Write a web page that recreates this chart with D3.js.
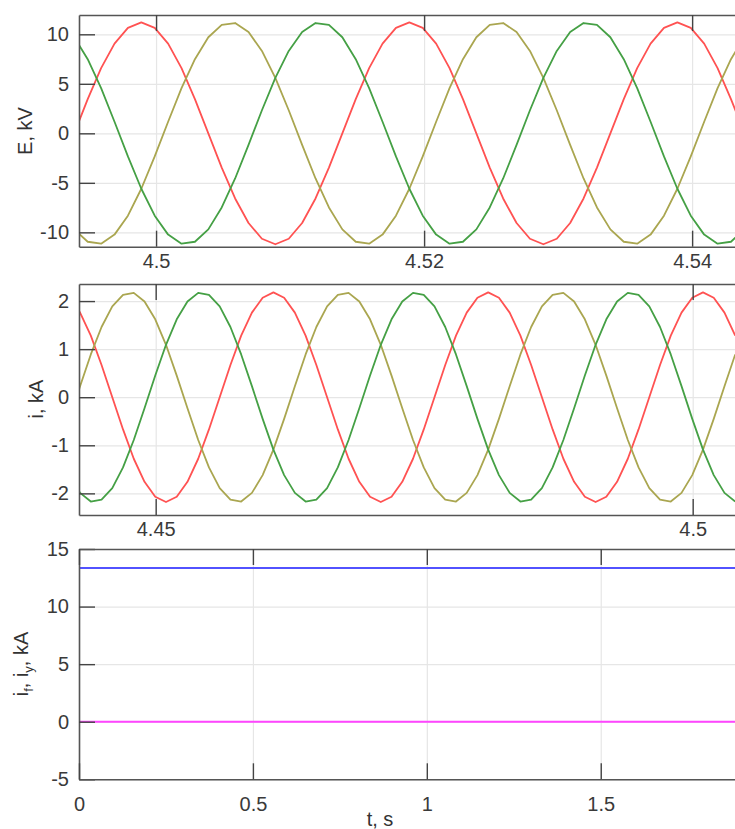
<!DOCTYPE html>
<html>
<head>
<meta charset="utf-8">
<script src="https://cdn.jsdelivr.net/npm/d3@7"></script>
<style>
	html, body { margin: 0; padding: 0; background: #fff; }
	svg { display: block; font-family: 'Liberation Sans', Arial, sans-serif; }
</style>
</head>
<body>
<svg id="chart" width="735" height="829"></svg>
<script>
const sampleStep = 0.001

// panel 1: phase EMF, kV
const eStart = 4.4939
const eRed = [0, 3.46, 6.58, 9.06, 10.65, 11.2, 10.65, 9.06, 6.58, 3.46, 0, -3.46, -6.58, -9.06, -10.65, -11.2, -10.65, -9.06, -6.58, -3.46,
	0, 3.46, 6.58, 9.06, 10.65, 11.2, 10.65, 9.06, 6.58, 3.46, 0, -3.46, -6.58, -9.06, -10.65, -11.2, -10.65, -9.06, -6.58, -3.46,
	0, 3.46, 6.58, 9.06, 10.65, 11.2, 10.65, 9.06, 6.58, 3.46, 0]
const eOlive = [-9.7, -10.95, -11.14, -10.23, -8.32, -5.6, -2.33, 1.17, 4.56, 7.49, 9.7, 10.95, 11.14, 10.23, 8.32, 5.6, 2.33, -1.17, -4.56, -7.49,
	-9.7, -10.95, -11.14, -10.23, -8.32, -5.6, -2.33, 1.17, 4.56, 7.49, 9.7, 10.95, 11.14, 10.23, 8.32, 5.6, 2.33, -1.17, -4.56, -7.49,
	-9.7, -10.95, -11.14, -10.23, -8.32, -5.6, -2.33, 1.17, 4.56, 7.49, 9.7]
const eGreen = [9.7, 7.49, 4.56, 1.17, -2.33, -5.6, -8.32, -10.23, -11.14, -10.95, -9.7, -7.49, -4.56, -1.17, 2.33, 5.6, 8.32, 10.23, 11.14, 10.95,
	9.7, 7.49, 4.56, 1.17, -2.33, -5.6, -8.32, -10.23, -11.14, -10.95, -9.7, -7.49, -4.56, -1.17, 2.33, 5.6, 8.32, 10.23, 11.14, 10.95,
	9.7, 7.49, 4.56, 1.17, -2.33, -5.6, -8.32, -10.23, -11.14, -10.95, -9.7]
const eTicksX = [4.5, 4.52, 4.54]
const eTicksY = [-10, -5, 0, 5, 10]

// panel 2: phase currents, kA
const iStart = 4.44196
const iRed = [2.07, 1.76, 1.28, 0.67, 0, -0.67, -1.28, -1.76, -2.07, -2.18, -2.07, -1.76, -1.28, -0.67, 0, 0.67, 1.28, 1.76, 2.07, 2.18,
	2.07, 1.76, 1.28, 0.67, 0, -0.67, -1.28, -1.76, -2.07, -2.18, -2.07, -1.76, -1.28, -0.67, 0, 0.67, 1.28, 1.76, 2.07, 2.18,
	2.07, 1.76, 1.28, 0.67, 0, -0.67, -1.28, -1.76, -2.07, -2.18, -2.07, -1.76, -1.28, -0.67, 0, 0.67, 1.28, 1.76, 2.07, 2.18,
	2.07, 1.76, 1.28]
const iOlive = [-0.45, 0.23, 0.89, 1.46, 1.89, 2.13, 2.17, 1.99, 1.62, 1.09, 0.45, -0.23, -0.89, -1.46, -1.89, -2.13, -2.17, -1.99, -1.62, -1.09,
	-0.45, 0.23, 0.89, 1.46, 1.89, 2.13, 2.17, 1.99, 1.62, 1.09, 0.45, -0.23, -0.89, -1.46, -1.89, -2.13, -2.17, -1.99, -1.62, -1.09,
	-0.45, 0.23, 0.89, 1.46, 1.89, 2.13, 2.17, 1.99, 1.62, 1.09, 0.45, -0.23, -0.89, -1.46, -1.89, -2.13, -2.17, -1.99, -1.62, -1.09,
	-0.45, 0.23, 0.89]
const iGreen = [-1.62, -1.99, -2.17, -2.13, -1.89, -1.46, -0.89, -0.23, 0.45, 1.09, 1.62, 1.99, 2.17, 2.13, 1.89, 1.46, 0.89, 0.23, -0.45, -1.09,
	-1.62, -1.99, -2.17, -2.13, -1.89, -1.46, -0.89, -0.23, 0.45, 1.09, 1.62, 1.99, 2.17, 2.13, 1.89, 1.46, 0.89, 0.23, -0.45, -1.09,
	-1.62, -1.99, -2.17, -2.13, -1.89, -1.46, -0.89, -0.23, 0.45, 1.09, 1.62, 1.99, 2.17, 2.13, 1.89, 1.46, 0.89, 0.23, -0.45, -1.09,
	-1.62, -1.99, -2.17]
const iTicksX = [4.45, 4.5]
const iTicksY = [-2, -1, 0, 1, 2]

// panel 3: field and damper currents, kA
const fTime = [0, 1.9]
const fBlue = [13.35, 13.35]
const fMagenta = [0, 0]
const fTicksX = [0, 0.5, 1, 1.5]
const fTicksY = [-5, 0, 5, 10, 15]

const left = 79
const right = 735
const fontSize = 20

const svg = d3.select('#chart')

const panels = [
	{
		top: 15, bottom: 246.7, xDomain: [4.49425, 4.5432], yDomain: [-11.45, 11.95],
		xTicks: eTicksX, yTicks: eTicksY, labelPad: 7,
		series: [
			{t: eRed.map((_, i) => eStart + i * sampleStep), v: eRed, color: '#ff5252'},
			{t: eOlive.map((_, i) => eStart + i * sampleStep), v: eOlive, color: '#aaa650'},
			{t: eGreen.map((_, i) => eStart + i * sampleStep), v: eGreen, color: '#45a045'},
		],
		yLabel: {x: 31.5, y: 131, parts: [['E, kV']]},
	},
	{
		top: 284, bottom: 515, xDomain: [4.44286, 4.50394], yDomain: [-2.45, 2.355],
		xTicks: iTicksX, yTicks: iTicksY, labelPad: 7,
		series: [
			{t: iRed.map((_, i) => iStart + i * sampleStep), v: iRed, color: '#ff5252'},
			{t: iOlive.map((_, i) => iStart + i * sampleStep), v: iOlive, color: '#aaa650'},
			{t: iGreen.map((_, i) => iStart + i * sampleStep), v: iGreen, color: '#45a045'},
		],
		yLabel: {x: 42.5, y: 399, parts: [['i, kA']]},
	},
	{
		top: 549, bottom: 779.3, xDomain: [0, 1.886], yDomain: [-5, 15],
		xTicks: fTicksX, yTicks: fTicksY, labelPad: 18,
		series: [
			{t: fTime, v: fBlue, color: '#5252ff'},
			{t: fTime, v: fMagenta, color: '#ff45ff'},
		],
		yLabel: {x: 28.3, y: 664, parts: [['i'], ['f', true], [', i'], ['y', true], [', kA']]},
	},
]

panels.forEach((p, n) => {
	const x = d3.scaleLinear().domain(p.xDomain).range([left, right])
	const y = d3.scaleLinear().domain(p.yDomain).range([p.bottom, p.top])
	const h = p.bottom - p.top
	const g = svg.append('g')

	g.append('clipPath').attr('id', 'clip' + n)
		.append('rect').attr('x', left).attr('y', p.top).attr('width', right - left + 10).attr('height', h)

	// grid
	g.append('g').attr('transform', `translate(${left},0)`)
		.call(d3.axisLeft(y).tickValues(p.yTicks).tickSize(-(right - left)).tickFormat(''))
		.call(a => a.select('.domain').remove())
		.selectAll('line').attr('stroke', '#e6e6e6').attr('stroke-width', 1.2)
	g.append('g').attr('transform', `translate(0,${p.bottom})`)
		.call(d3.axisBottom(x).tickValues(p.xTicks).tickSize(-h).tickFormat(''))
		.call(a => a.select('.domain').remove())
		.selectAll('line').attr('stroke', '#e6e6e6').attr('stroke-width', 1.2)

	// traces
	const line = d3.line().x(d => x(d[0])).y(d => y(d[1]))
	p.series.forEach(s => {
		g.append('path')
			.attr('clip-path', `url(#clip${n})`)
			.attr('d', line(s.t.map((t, i) => [t, s.v[i]])))
			.attr('fill', 'none')
			.attr('stroke', s.color)
			.attr('stroke-width', 1.8)
			.attr('stroke-linejoin', 'round')
	})

	// axes with inward ticks, plain hyphen for minus
	const fmt = d => String(d)
	const styleAxis = a => {
		a.select('.domain').attr('stroke', '#555').attr('stroke-width', 1.6)
		a.selectAll('.tick line').attr('stroke', '#444').attr('stroke-width', 1.4)
		a.selectAll('text').attr('fill', '#3a3a3a').attr('font-size', fontSize).attr('font-family', null)
	}
	g.append('g').attr('transform', `translate(${left},0)`)
		.call(d3.axisLeft(y).tickValues(p.yTicks).tickSizeInner(-16).tickSizeOuter(0).tickPadding(10).tickFormat(fmt))
		.call(styleAxis)
	g.append('g').attr('transform', `translate(0,${p.bottom})`)
		.call(d3.axisBottom(x).tickValues(p.xTicks).tickSizeInner(-16).tickSizeOuter(0).tickPadding(p.labelPad).tickFormat(fmt))
		.call(styleAxis)
	g.append('g').attr('transform', `translate(0,${p.top})`)
		.call(d3.axisTop(x).tickValues(p.xTicks).tickSizeInner(-16).tickSizeOuter(0).tickFormat(''))
		.call(styleAxis)

	// y label
	const label = g.append('text')
		.attr('transform', `translate(${p.yLabel.x},${p.yLabel.y}) rotate(-90)`)
		.attr('text-anchor', 'middle')
		.attr('font-size', fontSize)
		.attr('fill', '#333')
	p.yLabel.parts.forEach(([txt, sub]) => {
		const ts = label.append('tspan').text(txt)
		if (sub) ts.attr('font-size', 13).attr('baseline-shift', '-5')
	})
})

svg.append('text')
	.attr('x', 380).attr('y', 826)
	.attr('text-anchor', 'middle')
	.attr('font-size', fontSize)
	.attr('fill', '#333')
	.text('t, s')
</script>
</body>
</html>
